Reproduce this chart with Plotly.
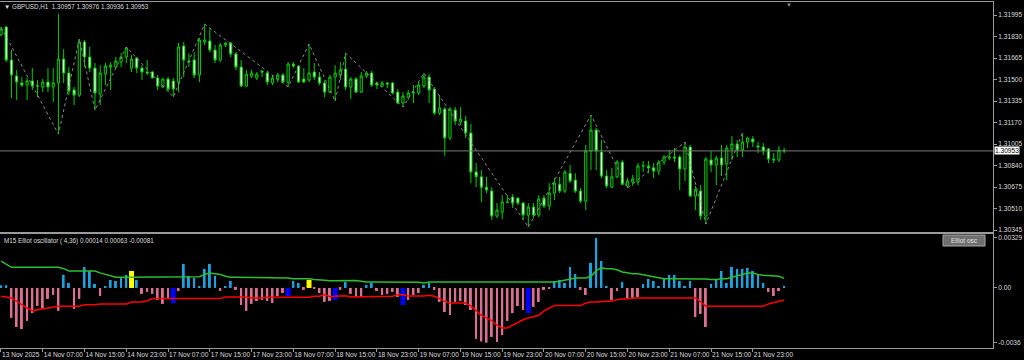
import plotly.graph_objects as go

# ---------------- data (GBPUSD H1) ----------------
open_ = [
    1.31842, 1.31903, 1.31650, 1.31527, 1.31474, 1.31458, 1.31489, 1.31450, 1.31443, 1.31481,
    1.31443, 1.31474, 1.31657, 1.31550, 1.31420, 1.31381, 1.31788, 1.31673, 1.31588, 1.31389,
    1.31542, 1.31596, 1.31596, 1.31634, 1.31673, 1.31588, 1.31665, 1.31588, 1.31558, 1.31558,
    1.31512, 1.31443, 1.31504, 1.31489, 1.31481, 1.31757, 1.31634, 1.31650, 1.31535, 1.31788,
    1.31796, 1.31727, 1.31650, 1.31765, 1.31780, 1.31696, 1.31596, 1.31450, 1.31527, 1.31512,
    1.31565, 1.31550, 1.31474, 1.31504, 1.31535, 1.31481, 1.31619, 1.31604, 1.31504, 1.31496,
    1.31558, 1.31519, 1.31474, 1.31404, 1.31519, 1.31535, 1.31581, 1.31443, 1.31504, 1.31404,
    1.31527, 1.31550, 1.31474, 1.31450, 1.31474, 1.31474, 1.31404, 1.31320, 1.31366, 1.31397,
    1.31397, 1.31450, 1.31519, 1.31427, 1.31243, 1.31274, 1.31052, 1.31266, 1.31174, 1.31182,
    1.31090, 1.30791, 1.30754, 1.30675, 1.30645, 1.30453, 1.30484, 1.30561, 1.30599, 1.30591,
    1.30553, 1.30461, 1.30522, 1.30461, 1.30591, 1.30530, 1.30630, 1.30697, 1.30645, 1.30781,
    1.30729, 1.30645, 1.30568, 1.30952, 1.31113, 1.30944, 1.30760, 1.30675, 1.30754, 1.30867,
    1.30684, 1.30714, 1.30714, 1.30837, 1.30837, 1.30822, 1.30798, 1.30867, 1.30898, 1.30906,
    1.30906, 1.30814, 1.30983, 1.30607, 1.30645, 1.30453, 1.30883, 1.30845, 1.30898, 1.30852,
    1.30968, 1.31006, 1.30960, 1.31021, 1.31044, 1.30991, 1.30983, 1.30968, 1.30890, 1.30883,
    1.30957,
]
high = [
    1.31903, 1.31911, 1.31727, 1.31573, 1.31519, 1.31512, 1.31588, 1.31496, 1.31504, 1.31588,
    1.31588, 1.32003, 1.31734, 1.31596, 1.31443, 1.31811, 1.31803, 1.31750, 1.31627, 1.31611,
    1.31627, 1.31634, 1.31673, 1.31703, 1.31750, 1.31688, 1.31673, 1.31611, 1.31650, 1.31565,
    1.31535, 1.31512, 1.31519, 1.31512, 1.31780, 1.31788, 1.31703, 1.31711, 1.31819, 1.31926,
    1.31895, 1.31765, 1.31780, 1.31788, 1.31788, 1.31711, 1.31650, 1.31573, 1.31573, 1.31558,
    1.31573, 1.31558, 1.31535, 1.31550, 1.31550, 1.31634, 1.31634, 1.31611, 1.31588, 1.31773,
    1.31627, 1.31558, 1.31496, 1.31535, 1.31611, 1.31634, 1.31703, 1.31519, 1.31519, 1.31558,
    1.31565, 1.31565, 1.31481, 1.31489, 1.31481, 1.31481, 1.31427, 1.31404, 1.31420, 1.31458,
    1.31481, 1.31550, 1.31542, 1.31443, 1.31381, 1.31289, 1.31289, 1.31289, 1.31289, 1.31220,
    1.31159, 1.30860, 1.30806, 1.30754, 1.30675, 1.30553, 1.30614, 1.30614, 1.30622, 1.30599,
    1.30561, 1.30553, 1.30553, 1.30614, 1.30614, 1.30706, 1.30745, 1.30754, 1.30806, 1.30845,
    1.30781, 1.30668, 1.30998, 1.31228, 1.31128, 1.31036, 1.30806, 1.30822, 1.30883, 1.30883,
    1.30745, 1.30768, 1.30860, 1.30875, 1.30875, 1.30860, 1.30883, 1.30921, 1.30960, 1.30975,
    1.30921, 1.31021, 1.30998, 1.30684, 1.30691, 1.30906, 1.30952, 1.30915, 1.30998, 1.30998,
    1.31067, 1.31036, 1.31090, 1.31059, 1.31067, 1.31021, 1.31013, 1.30975, 1.30937, 1.30991,
    1.30976,
]
low = [
    1.31834, 1.31634, 1.31358, 1.31343, 1.31443, 1.31343, 1.31420, 1.31366, 1.31404, 1.31404,
    1.31328, 1.31082, 1.31474, 1.31381, 1.31305, 1.31366, 1.31596, 1.31558, 1.31266, 1.31305,
    1.31458, 1.31420, 1.31588, 1.31596, 1.31627, 1.31558, 1.31550, 1.31496, 1.31535, 1.31512,
    1.31420, 1.31435, 1.31404, 1.31366, 1.31404, 1.31519, 1.31596, 1.31512, 1.31481, 1.31765,
    1.31711, 1.31627, 1.31634, 1.31750, 1.31673, 1.31573, 1.31443, 1.31443, 1.31512, 1.31496,
    1.31519, 1.31458, 1.31458, 1.31481, 1.31474, 1.31443, 1.31588, 1.31474, 1.31474, 1.31481,
    1.31496, 1.31458, 1.31366, 1.31397, 1.31335, 1.31496, 1.31420, 1.31351, 1.31397, 1.31397,
    1.31512, 1.31443, 1.31427, 1.31443, 1.31435, 1.31389, 1.31312, 1.31289, 1.31343, 1.31320,
    1.31381, 1.31435, 1.31320, 1.31228, 1.31228, 1.30915, 1.31036, 1.31151, 1.31151, 1.31052,
    1.30706, 1.30675, 1.30561, 1.30630, 1.30423, 1.30438, 1.30430, 1.30553, 1.30515, 1.30538,
    1.30423, 1.30369, 1.30438, 1.30446, 1.30515, 1.30499, 1.30576, 1.30630, 1.30630, 1.30706,
    1.30630, 1.30553, 1.30499, 1.30806, 1.30806, 1.30745, 1.30668, 1.30668, 1.30745, 1.30691,
    1.30668, 1.30684, 1.30691, 1.30791, 1.30781, 1.30745, 1.30768, 1.30845, 1.30883, 1.30867,
    1.30653, 1.30722, 1.30599, 1.30499, 1.30423, 1.30392, 1.30791, 1.30691, 1.30760, 1.30729,
    1.30883, 1.30906, 1.30906, 1.30975, 1.30983, 1.30937, 1.30921, 1.30860, 1.30860, 1.30867,
    1.30936,
]
close = [
    1.31888, 1.31650, 1.31535, 1.31481, 1.31458, 1.31489, 1.31450, 1.31452, 1.31481, 1.31443,
    1.31474, 1.31657, 1.31550, 1.31412, 1.31381, 1.31788, 1.31673, 1.31588, 1.31397, 1.31550,
    1.31604, 1.31611, 1.31642, 1.31673, 1.31742, 1.31657, 1.31588, 1.31558, 1.31550, 1.31512,
    1.31450, 1.31504, 1.31427, 1.31427, 1.31750, 1.31650, 1.31642, 1.31535, 1.31803, 1.31803,
    1.31727, 1.31650, 1.31765, 1.31780, 1.31696, 1.31596, 1.31450, 1.31542, 1.31550, 1.31542,
    1.31558, 1.31481, 1.31512, 1.31535, 1.31481, 1.31619, 1.31604, 1.31481, 1.31481, 1.31550,
    1.31519, 1.31474, 1.31404, 1.31519, 1.31550, 1.31573, 1.31443, 1.31504, 1.31404, 1.31527,
    1.31550, 1.31458, 1.31458, 1.31474, 1.31466, 1.31397, 1.31320, 1.31374, 1.31397, 1.31399,
    1.31458, 1.31519, 1.31420, 1.31243, 1.31282, 1.31052, 1.31274, 1.31182, 1.31197, 1.31090,
    1.30791, 1.30754, 1.30675, 1.30653, 1.30453, 1.30499, 1.30561, 1.30559, 1.30553, 1.30553,
    1.30461, 1.30522, 1.30461, 1.30584, 1.30530, 1.30630, 1.30706, 1.30645, 1.30791, 1.30722,
    1.30645, 1.30568, 1.30952, 1.31113, 1.30952, 1.30760, 1.30684, 1.30754, 1.30867, 1.30697,
    1.30722, 1.30737, 1.30837, 1.30839, 1.30822, 1.30798, 1.30867, 1.30906, 1.30906, 1.30898,
    1.30814, 1.30983, 1.30607, 1.30653, 1.30453, 1.30890, 1.30845, 1.30898, 1.30845, 1.30975,
    1.31006, 1.30960, 1.31021, 1.31052, 1.31021, 1.30983, 1.30952, 1.30890, 1.30883, 1.30960,
    1.30953,
]

# zigzag pivots (bar index), alternating high / low starting with a high
zigzag_bars = [0, 11, 15, 18, 24, 33, 39, 55, 59, 64, 66, 77, 81, 101, 113, 120, 131, 135, 142]

# Elliot oscillator (M15, 4/36)
osc_hist = [
    0.00018, 0.00018, -0.00197, -0.00257, -0.00270, -0.00217, -0.00165, -0.00118, -0.00132, -0.00072,
    -0.00046, -0.00151, 0.00086, 0.00033, -0.00138, -0.00072, 0.00138, 0.00112, 0.00026, -0.00053,
    0.00007, 0.00053, 0.00046, 0.00066, 0.00086, 0.00112, 0.00053, -0.00039, -0.00026, -0.00039,
    -0.00079, -0.00105, -0.00066, -0.00099, -0.00020, 0.00158, 0.00079, 0.00066, 0.00007, 0.00125,
    0.00158, 0.00079, -0.00020, 0.00007, 0.00046, -0.00013, -0.00112, -0.00151, -0.00105, -0.00086,
    -0.00079, -0.00086, -0.00099, -0.00053, -0.00033, -0.00053, 0.00046, 0.00033, -0.00013, 0.00053,
    -0.00007, -0.00033, -0.00092, -0.00086, -0.00079, -0.00013, 0.00039, -0.00039, -0.00059, -0.00059,
    0.00020, 0.00033, -0.00020, -0.00046, -0.00039, -0.00026, -0.00059, -0.00112, -0.00079, -0.00046,
    -0.00033, 0.00020, 0.00033, -0.00013, -0.00092, -0.00158, -0.00178, -0.00092, -0.00086, -0.00112,
    -0.00145, -0.00335, -0.00352, -0.00360, -0.00322, -0.00355, -0.00310, -0.00217, -0.00165, -0.00118,
    -0.00145, -0.00165, -0.00125, -0.00092, -0.00013, -0.00007, 0.00046, 0.00053, 0.00033, 0.00138,
    0.00092, -0.00013, -0.00046, 0.00165, 0.00329, 0.00178, 0.00007, -0.00079, -0.00020, 0.00039,
    -0.00066, -0.00072, -0.00059, 0.00026, 0.00059, 0.00046, 0.00013, 0.00059, 0.00086, 0.00086,
    0.00046, 0.00013, 0.00046, -0.00191, -0.00171, -0.00257, 0.00026, 0.00053, 0.00112, 0.00033,
    0.00138, 0.00125, 0.00125, 0.00132, 0.00112, 0.00086, 0.00033, -0.00026, -0.00053, -0.00020,
    0.00014,
]
osc_upper = [
    0.00176, 0.00158, 0.00136, 0.00136, 0.00136, 0.00136, 0.00136, 0.00136, 0.00136, 0.00136,
    0.00136, 0.00136, 0.00127, 0.00112, 0.00112, 0.00112, 0.00112, 0.00112, 0.00112, 0.00099,
    0.00088, 0.00077, 0.00070, 0.00070, 0.00070, 0.00070, 0.00070, 0.00070, 0.00070, 0.00070,
    0.00070, 0.00070, 0.00070, 0.00070, 0.00070, 0.00074, 0.00074, 0.00074, 0.00074, 0.00088,
    0.00099, 0.00094, 0.00088, 0.00077, 0.00070, 0.00070, 0.00070, 0.00070, 0.00070, 0.00070,
    0.00070, 0.00070, 0.00070, 0.00070, 0.00070, 0.00066, 0.00061, 0.00061, 0.00061, 0.00061,
    0.00055, 0.00051, 0.00051, 0.00048, 0.00049, 0.00049, 0.00049, 0.00049, 0.00049, 0.00044,
    0.00039, 0.00039, 0.00039, 0.00039, 0.00039, 0.00039, 0.00039, 0.00039, 0.00039, 0.00039,
    0.00037, 0.00033, 0.00039, 0.00039, 0.00039, 0.00039, 0.00039, 0.00039, 0.00039, 0.00039,
    0.00039, 0.00039, 0.00039, 0.00039, 0.00039, 0.00039, 0.00039, 0.00039, 0.00039, 0.00039,
    0.00039, 0.00039, 0.00039, 0.00039, 0.00039, 0.00039, 0.00039, 0.00044, 0.00051, 0.00061,
    0.00066, 0.00066, 0.00066, 0.00077, 0.00114, 0.00132, 0.00127, 0.00127, 0.00120, 0.00105,
    0.00097, 0.00094, 0.00094, 0.00088, 0.00081, 0.00072, 0.00066, 0.00061, 0.00061, 0.00061,
    0.00061, 0.00061, 0.00059, 0.00059, 0.00059, 0.00059, 0.00055, 0.00055, 0.00061, 0.00061,
    0.00070, 0.00081, 0.00092, 0.00099, 0.00099, 0.00088, 0.00084, 0.00081, 0.00081, 0.00077,
    0.00063,
]
osc_lower = [
    -0.00055, -0.00059, -0.00066, -0.00086, -0.00110, -0.00132, -0.00149, -0.00143, -0.00138, -0.00132,
    -0.00125, -0.00120, -0.00120, -0.00120, -0.00120, -0.00120, -0.00110, -0.00110, -0.00110, -0.00105,
    -0.00105, -0.00105, -0.00105, -0.00105, -0.00105, -0.00092, -0.00092, -0.00092, -0.00084, -0.00070,
    -0.00070, -0.00070, -0.00070, -0.00070, -0.00070, -0.00070, -0.00070, -0.00070, -0.00070, -0.00070,
    -0.00070, -0.00070, -0.00070, -0.00059, -0.00059, -0.00059, -0.00059, -0.00059, -0.00066, -0.00066,
    -0.00066, -0.00061, -0.00061, -0.00061, -0.00061, -0.00061, -0.00061, -0.00061, -0.00061, -0.00061,
    -0.00055, -0.00055, -0.00044, -0.00058, -0.00055, -0.00055, -0.00051, -0.00059, -0.00059, -0.00059,
    -0.00055, -0.00055, -0.00055, -0.00055, -0.00055, -0.00055, -0.00044, -0.00044, -0.00053, -0.00053,
    -0.00053, -0.00053, -0.00048, -0.00055, -0.00070, -0.00088, -0.00099, -0.00099, -0.00099, -0.00099,
    -0.00120, -0.00149, -0.00180, -0.00197, -0.00215, -0.00245, -0.00263, -0.00263, -0.00245, -0.00224,
    -0.00209, -0.00197, -0.00188, -0.00180, -0.00151, -0.00132, -0.00116, -0.00116, -0.00116, -0.00116,
    -0.00116, -0.00116, -0.00099, -0.00092, -0.00092, -0.00088, -0.00088, -0.00088, -0.00077, -0.00072,
    -0.00072, -0.00066, -0.00066, -0.00066, -0.00066, -0.00066, -0.00066, -0.00066, -0.00066, -0.00066,
    -0.00066, -0.00066, -0.00066, -0.00066, -0.00092, -0.00120, -0.00120, -0.00120, -0.00120, -0.00120,
    -0.00120, -0.00120, -0.00120, -0.00120, -0.00120, -0.00120, -0.00120, -0.00105, -0.00095, -0.00088,
    -0.00081,
]
signal_up_bars = [25, 59]
signal_down_bars = [33, 55, 64, 77, 101]

x_tick_bars = [0, 8, 16, 24, 32, 40, 48, 56, 64, 72, 80, 88, 96, 104, 112, 120, 128, 136, 144]
x_tick_labels = ["13 Nov 2025", "14 Nov 07:00", "14 Nov 15:00", "14 Nov 23:00", "17 Nov 07:00",
                 "17 Nov 15:00", "17 Nov 23:00", "18 Nov 07:00", "18 Nov 15:00", "18 Nov 23:00",
                 "19 Nov 07:00", "19 Nov 15:00", "19 Nov 23:00", "20 Nov 07:00", "20 Nov 15:00",
                 "20 Nov 23:00", "21 Nov 07:00", "21 Nov 15:00", "21 Nov 23:00"]
price_ticks = [1.31995, 1.31830, 1.31665, 1.31500, 1.31335, 1.31170, 1.31005, 1.30840, 1.30675, 1.30510, 1.30345]
osc_ticks = [0.00329, 0.0, -0.0036]
osc_tick_labels = ["0.00329", "0.00", "-0.0036"]

# ---------------- styling ----------------
BG = "#000000"
CANDLE = "#00D000"
FRAME = "#9a9a9a"
TXT = "#dcdcdc"
FONT = "Liberation Sans, Arial, sans-serif"
FS = 6.6

n = len(close)
bars = list(range(n))

fig = go.Figure()

fig.add_trace(go.Candlestick(
    x=bars, open=open_, high=high, low=low, close=close,
    increasing=dict(line=dict(color=CANDLE, width=1), fillcolor="#000000"),
    decreasing=dict(line=dict(color=CANDLE, width=1), fillcolor="#ffffff"),
    whiskerwidth=0, xaxis="x", yaxis="y", showlegend=False, hoverinfo="skip",
))

zz_vals = [high[b] if k % 2 == 0 else low[b] for k, b in enumerate(zigzag_bars)]
fig.add_trace(go.Scatter(
    x=zigzag_bars, y=zz_vals, mode="lines",
    line=dict(color="#8a8a8a", width=1, dash="dot"),
    xaxis="x", yaxis="y", showlegend=False, hoverinfo="skip",
))

colors, widths = [], []
for i, v in enumerate(osc_hist):
    if i in signal_up_bars:
        colors.append("#FFFF00"); widths.append(0.95)
    elif i in signal_down_bars:
        colors.append("#0000FF"); widths.append(0.95)
    elif v >= 0:
        colors.append("#1AA3DE"); widths.append(0.38)
    else:
        colors.append("#DB7093"); widths.append(0.38)

fig.add_trace(go.Bar(
    x=bars, y=osc_hist, width=widths, marker=dict(color=colors, line=dict(width=0)),
    xaxis="x2", yaxis="y2", showlegend=False, hoverinfo="skip",
))
fig.add_trace(go.Scatter(
    x=bars, y=osc_upper, mode="lines", line=dict(color="#2EBE2E", width=1.5),
    xaxis="x2", yaxis="y2", showlegend=False, hoverinfo="skip",
))
fig.add_trace(go.Scatter(
    x=bars, y=osc_lower, mode="lines", line=dict(color="#FF0000", width=1.5),
    xaxis="x2", yaxis="y2", showlegend=False, hoverinfo="skip",
))

H_PLOT = 348.0
W_PLOT = 993.0
def py(p):  # pixel row inside plot area -> paper y
    return (H_PLOT - p) / H_PLOT
def px(p):
    return p / W_PLOT

axis_common = dict(showgrid=False, zeroline=False, showline=True, mirror=True,
                   linecolor=FRAME, linewidth=1, automargin=False)

fig.update_layout(
    width=1024, height=360,
    margin=dict(l=0, r=31, t=0, b=12, pad=0),
    paper_bgcolor=BG, plot_bgcolor=BG,
    hovermode=False, boxgap=0.4,
    font=dict(family=FONT, size=FS, color=TXT),
    xaxis=dict(domain=[0, 1], range=[-0.19, 190.0], anchor="y", showticklabels=False,
               ticks="", rangeslider=dict(visible=False), **axis_common),
    xaxis2=dict(domain=[0, 1], matches="x", anchor="y2", tickmode="array",
                tickvals=x_tick_bars, ticktext=x_tick_labels, ticks="outside", ticklen=3,
                tickcolor=FRAME, ticklabelposition="outside right", tickangle=0,
                tickfont=dict(family=FONT, size=FS, color=TXT), **axis_common),
    yaxis=dict(domain=[py(232), py(2)], range=[1.30331, 1.32095], side="right", anchor="x",
               tickmode="array", tickvals=price_ticks,
               ticktext=[f"{v:.5f}" for v in price_ticks], ticks="outside", ticklen=3,
               tickcolor=FRAME, tickfont=dict(family=FONT, size=FS, color=TXT), **axis_common),
    yaxis2=dict(domain=[0, py(234)], range=[-0.00395, 0.00355], side="right", anchor="x2",
                tickmode="array", tickvals=osc_ticks, ticktext=osc_tick_labels,
                ticks="outside", ticklen=3, tickcolor=FRAME,
                tickfont=dict(family=FONT, size=FS, color=TXT), **axis_common),
)

# current price line + label
fig.add_shape(type="line", xref="paper", x0=0, x1=1, yref="y", y0=close[-1], y1=close[-1],
              line=dict(color="#7a7a7a", width=1))
fig.add_annotation(xref="paper", x=1, xanchor="left", xshift=1, yref="y", y=close[-1],
                   yanchor="middle", text=f"{close[-1]:.5f}", showarrow=False, bgcolor="#ffffff",
                   font=dict(family=FONT, size=FS, color="#000000"), borderpad=0)

# chart title
fig.add_annotation(xref="paper", yref="paper", x=px(2), y=py(7), xanchor="left", yanchor="middle",
                   text=f"▼ GBPUSD,H1  {open_[-1]:.5f} {high[-1]:.5f} {low[-1]:.5f} {close[-1]:.5f}",
                   showarrow=False, font=dict(family=FONT, size=6.3, color=TXT))
# shift marker
fig.add_annotation(xref="x", yref="paper", x=n, y=1.0, xanchor="center", yanchor="top", text="▼",
                   showarrow=False, font=dict(family=FONT, size=6, color="#8a8a8a"))

# oscillator caption
fig.add_annotation(xref="paper", yref="paper", x=px(2), y=py(241), xanchor="left", yanchor="middle",
                   text=f"M15 Elliot oscillator ( 4,36) {osc_hist[-1]:.5f} {osc_upper[-1]:.5f} {osc_lower[-1]:.5f}",
                   showarrow=False, font=dict(family=FONT, size=6.3, color=TXT))

# "Elliot osc" button
fig.add_shape(type="rect", xref="paper", yref="paper", x0=px(943), x1=px(985), y0=py(246), y1=py(235),
              fillcolor="#6f6f6f", line=dict(color="#a8a8a8", width=1))
fig.add_annotation(xref="paper", yref="paper", x=px(964), y=py(240.5), xanchor="center",
                   yanchor="middle", text="Elliot osc", showarrow=False,
                   font=dict(family=FONT, size=6.5, color="#e0e0e0"))

fig.write_html("out.html", config={"displayModeBar": False})
